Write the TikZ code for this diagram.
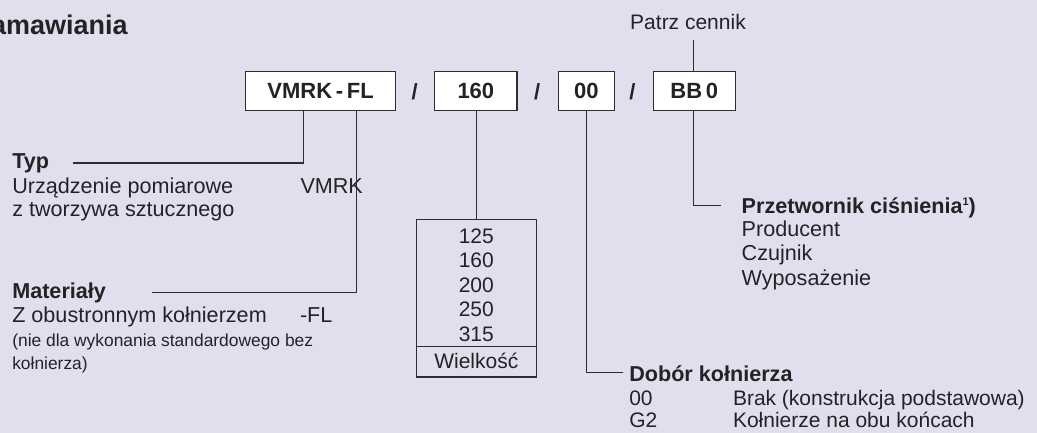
\documentclass[tikz,border=0pt]{standalone}
\usepackage{fontspec}
\setmainfont{Liberation Sans}
\definecolor{bg}{RGB}{225,223,238}
\definecolor{ink}{RGB}{35,35,38}
\definecolor{ln}{RGB}{45,45,50}
\begin{document}
\begin{tikzpicture}[x=1pt,y=-1pt,
  every node/.style={text=ink, inner sep=0pt, outer sep=0pt},
  txt/.style={anchor=base west, font=\fontsize{21.6}{24}\selectfont},
  txtb/.style={anchor=base west, font=\fontsize{21}{24}\selectfont},
  head/.style={anchor=base west, font=\fontsize{21.6}{24}\selectfont\bfseries},
  small/.style={anchor=base west, font=\fontsize{17.4}{20}\selectfont},
  codebox/.style={draw=ln, line width=1.3pt, fill=white, minimum height=39.3pt, font=\fontsize{22}{24}\selectfont\bfseries},
  slash/.style={anchor=base, font=\fontsize{22}{24}\selectfont\bfseries},
  conn/.style={draw=ln, line width=1.2pt},
  num/.style={anchor=base, font=\fontsize{21}{24}\selectfont}]
\fill[bg] (0,0) rectangle (1037,433);
\useasboundingbox (0,0) rectangle (1037,433);

% title
\node[anchor=base east, font=\fontsize{27}{30}\selectfont\bfseries] (title) at (127.7,34.3) {zamawiania};

% code boxes
\node[codebox, minimum width=150.3pt] (b1) at (320.55,91.05) {VMRK\,-\,FL};
\node[codebox, minimum width=82.5pt] (b2) at (475.85,91.05) {160};
\node[codebox, minimum width=56.1pt] (b3) at (586.25,91.05) {00};
\node[codebox, minimum width=82.2pt] (b4) at (694.3,91.05) {BB\,0};
\node[slash] (s1) at (414.6,99.6) {/};
\node[slash] (s2) at (537.1,99.6) {/};
\node[slash] (s3) at (632.5,99.6) {/};

% Patrz cennik
\node[anchor=base, font=\fontsize{21}{24}\selectfont] (pc) at (688,30) {Patrz cennik};
\coordinate (pctop) at (693.6,40);
\draw[conn] (b4.north -| pctop) -- (pctop);

% Typ
\node[head] (typ) at (12.3,168.3) {Typ};
\node[txt] (typ1) at (12.3,193.3) {Urządzenie pomiarowe};
\node[txt] (typ2) at (12.3,216.7) {z tworzywa sztucznego};
\node[txt] (typc) at (300.5,193.3) {VMRK};
\coordinate (typcorner) at (303.2,163);
\coordinate (typend) at (72.7,163);
\draw[conn] (b1.south -| typcorner) -- (typcorner) -- (typend);

% Materialy
\node[head] (mat) at (12.3,298.3) {Materiały};
\node[txt] (mat1) at (12.3,322.3) {Z obustronnym kołnierzem};
\node[txt] (matc) at (300,322.3) {-FL};
\node[small] (mat2) at (12.3,346) {(nie dla wykonania standardowego bez};
\node[small] (mat3) at (12.3,369.3) {kołnierza)};
\coordinate (matcorner) at (356.8,292.5);
\coordinate (matend) at (152,292.5);
\draw[conn] (b1.south -| matcorner) -- (matcorner) -- (matend);

% Wielkosc table
\node[draw=ln, line width=1.3pt, minimum width=120pt, minimum height=157.3pt] (sz) at (476.3,298.35) {};
\coordinate (div) at (476.3,346.7);
\draw[draw=ln, line width=1.3pt] (sz.west |- div) -- (sz.east |- div);
\node[num] (n1) at (476.3,243.3) {125};
\node[num] (n2) at (476.3,267.9) {160};
\node[num] (n3) at (476.3,292.4) {200};
\node[num] (n4) at (476.3,316.9) {250};
\node[num] (n5) at (476.3,341.5) {315};
\node[num] (wk) at (476.3,368.3) {Wielkość};
\draw[conn] (b2.south -| sz.north) -- (sz.north);

% Przetwornik
\node[head] (prz) at (741.7,213.3) {Przetwornik ciśnienia\raisebox{7.5pt}{\fontsize{11}{12}\selectfont 1})};
\node[txt] (prz1) at (741.7,236.7) {Producent};
\node[txt] (prz2) at (741.7,260.7) {Czujnik};
\node[txt] (prz3) at (741.7,285) {Wyposażenie};
\coordinate (przcorner) at (693.6,205.3);
\coordinate (przend) at (721,205.3);
\draw[conn] (b4.south -| przcorner) -- (przcorner) -- (przend);

% Dobor kolnierza
\node[head] (dob) at (629.3,381.7) {Dobór kołnierza};
\node[txtb] (dob1a) at (629.3,405) {00};
\node[txtb] (dob1b) at (733,405) {Brak (konstrukcja podstawowa)};
\node[txtb] (dob2a) at (629.3,427.3) {G2};
\node[txtb] (dob2b) at (733,427.3) {Kołnierze na obu końcach};
\coordinate (dobcorner) at (586.3,372.3);
\coordinate (dobend) at (623.3,372.3);
\draw[conn] (b3.south -| dobcorner) -- (dobcorner) -- (dobend);
\end{tikzpicture}
\end{document}
